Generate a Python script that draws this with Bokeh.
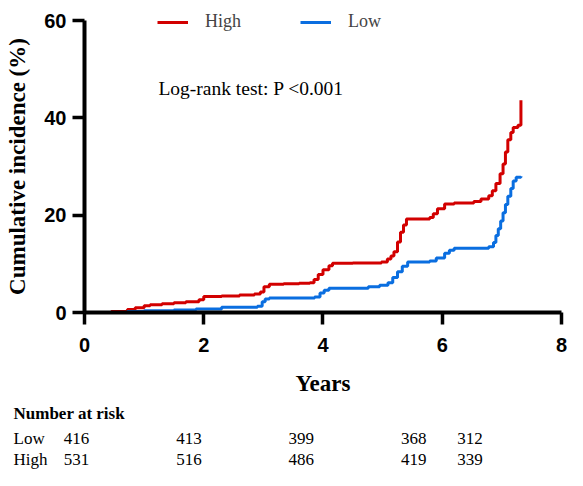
from bokeh.plotting import figure
from bokeh.models import Range1d, FixedTicker, Legend, LegendItem, Label
from bokeh.embed import file_html
from bokeh.resources import INLINE

# ---- data ----
high_t = [0, 0.45, 0.72, 0.85, 1.0, 1.1, 1.3, 1.5, 1.7, 1.92, 2.0, 2.3, 2.6, 2.85, 2.95,
          3.01, 3.1, 3.34, 3.6, 3.78, 3.85, 3.92, 4.0, 4.1, 4.16, 4.5, 4.98, 5.08, 5.14,
          5.19, 5.25, 5.30, 5.35, 5.40, 5.79, 5.85, 5.92, 6.04, 6.2, 6.53, 6.65, 6.78,
          6.84, 6.9, 6.97, 7.02, 7.06, 7.10, 7.15, 7.19, 7.27, 7.32]
high_v = [0, 0.2, 0.6, 1.0, 1.4, 1.6, 1.8, 2.0, 2.2, 2.6, 3.3, 3.4, 3.6, 3.8, 4.2,
          5.3, 5.8, 5.9, 6.0, 6.1, 6.8, 7.8, 8.8, 9.6, 10.1, 10.2, 10.4, 11.0, 11.6,
          12.5, 14.5, 16.5, 18.0, 19.2, 19.5, 20.3, 21.3, 22.3, 22.5, 22.8, 23.3, 24.0,
          25.0, 26.5, 28.5, 30.5, 33.0, 35.5, 37.0, 38.0, 38.5, 43.6]
low_t = [0, 0.72, 1.0, 1.5, 1.87, 2.3, 2.9, 2.98, 3.03, 3.1, 3.86, 3.95, 4.02, 4.1,
         4.76, 4.95, 5.09, 5.17, 5.25, 5.33, 5.42, 5.79, 5.9, 6.04, 6.12, 6.2, 6.78,
         6.86, 6.9, 6.94, 6.98, 7.02, 7.06, 7.10, 7.15, 7.19, 7.24, 7.32]
low_v = [0, 0.2, 0.35, 0.5, 0.7, 1.1, 1.3, 2.2, 2.8, 3.0, 3.2, 4.0, 4.6, 5.0,
         5.3, 5.6, 6.1, 7.2, 8.4, 9.5, 10.4, 10.6, 11.2, 12.2, 12.8, 13.2, 13.5,
         14.4, 15.8, 17.2, 18.8, 20.5, 22.2, 23.9, 25.5, 27.0, 27.8, 28.0]

x_ticks = [0, 2, 4, 6, 8]
y_ticks = [0, 20, 40, 60]
group_names = ["High", "Low"]
group_colors = ["#d20000", "#0a6ee0"]

risk_times = [0, 2, 4, 6, 7]
risk_low = [416, 413, 399, 368, 312]
risk_high = [531, 516, 486, 419, 339]
risk_rows = ["Low", "High"]
risk_title = "Number at risk"

SERIF = "Liberation Serif"
SANS = "Liberation Sans"

W, H = 567, 470

# The frame covers the whole canvas; the axes sit at fixed data locations inside it,
# so the legend and the risk table (below the axes) are not clipped.
p = figure(width=W, height=H, min_border=0,
           x_range=Range1d(-1.409, 8.101), y_range=Range1d(-32.46, 64.11),
           output_backend="svg", toolbar_location=None)
p.outline_line_color = None
p.grid.visible = False
p.background_fill_color = "white"
p.border_fill_color = "white"

for ax in (p.xaxis[0], p.yaxis[0]):
    ax.fixed_location = 0
    ax.axis_line_width = 4
    ax.axis_line_color = "black"
    ax.major_tick_line_width = 3.5
    ax.major_tick_line_color = "black"
    ax.major_tick_in = 0
    ax.major_tick_out = 12
    ax.minor_tick_line_color = None
    ax.major_label_text_font = SANS
    ax.major_label_text_font_style = "bold"
    ax.major_label_text_font_size = "20px"
    ax.major_label_text_color = "black"
    ax.axis_label_text_font = SERIF
    ax.axis_label_text_font_style = "bold"
    ax.axis_label_text_font_size = "23px"
    ax.axis_label_text_color = "black"

p.xaxis.bounds = (x_ticks[0], x_ticks[-1])
p.yaxis.bounds = (y_ticks[0], y_ticks[-1])
p.xaxis.ticker = FixedTicker(ticks=x_ticks)
p.yaxis.ticker = FixedTicker(ticks=y_ticks)
p.xaxis.major_label_standoff = 13
p.yaxis.major_label_standoff = 6
p.xaxis.axis_label = "Years"
p.yaxis.axis_label = "Cumulative incidence (%)"
p.xaxis.axis_label_standoff = 16
p.yaxis.axis_label_standoff = 11

r_high = p.step(high_t, high_v, mode="after", line_color=group_colors[0], line_width=3)
r_low = p.step(low_t, low_v, mode="after", line_color=group_colors[1], line_width=3)

legend = Legend(items=[LegendItem(label=group_names[0], renderers=[r_high]),
                       LegendItem(label=group_names[1], renderers=[r_low])],
                orientation="horizontal", location=(157, 438),
                padding=0, margin=0, spacing=59,
                glyph_width=31, glyph_height=20, label_height=20, label_standoff=17,
                label_text_font=SERIF, label_text_font_size="18px",
                border_line_color=None, background_fill_alpha=0)
p.add_layout(legend)

p.add_layout(Label(x=1.24, y=46.0, text="Log-rank test: P <0.001",
                   text_baseline="middle", text_align="left",
                   text_font=SERIF, text_font_size="19.5px", text_color="black"))

# ---- number at risk table ----
# "risk": the table's own column scale (years); "px": pixel rows/columns of the canvas
p.extra_x_ranges = {"risk": Range1d(-1.352, 8.737), "px": Range1d(0, W)}
p.extra_y_ranges = {"px": Range1d(H, 0)}
title_y = 413
row_y = [438, 459]
label_x = 13
p.add_layout(Label(x=label_x, y=title_y, x_range_name="px", y_range_name="px", text=risk_title,
                   text_baseline="middle", text_align="left", text_font=SERIF,
                   text_font_style="bold", text_font_size="17px", text_color="black"))
for name, vals, yy in zip(risk_rows, [risk_low, risk_high], row_y):
    p.add_layout(Label(x=label_x, y=yy, x_range_name="px", y_range_name="px", text=name,
                       text_baseline="middle", text_align="left", text_font=SERIF,
                       text_font_size="17px", text_color="black"))
    for tt, v in zip(risk_times, vals):
        p.add_layout(Label(x=tt, y=yy, x_range_name="risk", y_range_name="px", text=str(v),
                           text_baseline="middle", text_align="center", text_font=SERIF,
                           text_font_size="17px", text_color="black"))

open("out.html", "w").write(file_html(p, INLINE))
